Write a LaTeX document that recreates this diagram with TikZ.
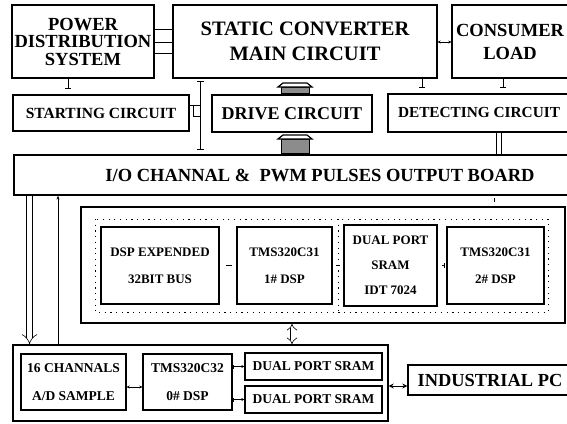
\documentclass[tikz,border=0pt]{standalone}
\usepackage{fontspec}
\setmainfont{Liberation Serif}
\usetikzlibrary{arrows.meta}

\begin{document}
\begin{tikzpicture}[
    x=1pt, y=-1pt,
    blk/.style={draw, line width=1.3pt, inner sep=0pt, align=center},
    fs/.style 2 args={font=\bfseries\fontsize{#1}{#2}\selectfont},
    link/.style={line width=0.8pt},
    tee/.style={line width=0.8pt, -{Bar[width=6pt,line width=0.8pt]}, shorten >=6pt},
    sml/.tip={Stealth[length=3pt,width=3pt]},
    roof/.style={draw, line width=1.2pt, fill=white},
    hatch/.style={draw, line width=0.5pt, fill=black!45}
]
\useasboundingbox (0,0) rectangle (567,423);

% top row
\node[blk, fs={18.5}{17.5}, minimum width=142pt, minimum height=73pt] (pds) at (83,41.5) {POWER\\DISTRIBUTION\\SYSTEM};
\node[blk, fs={20.5}{25}, minimum width=264pt, minimum height=73pt] (scmc) at (305,41.5) {STATIC CONVERTER\\MAIN CIRCUIT};
\node[blk, fs={18.5}{23}, minimum width=116pt, minimum height=73pt] (load) at (510,41.5) {CONSUMER\\LOAD};

% second row
\node[blk, fs={15.5}{15.5}, minimum width=176pt, minimum height=36pt] (start) at (101,113) {STARTING CIRCUIT};
\node[blk, fs={18}{18}, minimum width=160pt, minimum height=37pt] (drive) at (292,113.5) {DRIVE CIRCUIT};
\node[blk, fs={15.3}{15.3}, minimum width=182pt, minimum height=38pt] (detect) at (479,113) {DETECTING CIRCUIT};
\coordinate (vbus) at (200.5,113);

% I/O board
\node[blk, fs={18.5}{18.5}, minimum width=612pt, minimum height=40pt] (io) at (320,175) {I/O CHANNAL \&\ \ PWM PULSES OUTPUT BOARD};

% DSP board
\node[blk, minimum width=484pt, minimum height=116pt] (dspbrd) at (323,265) {};
\draw[line width=1pt, dash pattern=on 1.2pt off 4.5pt] (95,219) rectangle (548,312);
\draw[line width=1pt, dash pattern=on 1.2pt off 4.5pt] (338,219) -- (338,312);
\node[blk, fs={13}{27}, minimum width=118pt, minimum height=77pt] (expbus) at (160,265.5) {DSP EXPENDED\\32BIT BUS};
\node[blk, fs={13}{27}, minimum width=95pt, minimum height=77pt] (dsp1) at (284.5,265.5) {TMS320C31\\1\# DSP};
\node[blk, fs={13}{25}, minimum width=93pt, minimum height=81pt] (dpsram) at (390.5,265.5) {DUAL PORT\\SRAM\\IDT 7024};
\node[blk, fs={13}{27}, minimum width=97pt, minimum height=77pt] (dsp2) at (495.5,265.5) {TMS320C31\\2\# DSP};

% sample board
\node[blk, minimum width=375pt, minimum height=76pt] (lower) at (200.5,383) {};
\node[blk, fs={13.5}{28}, minimum width=105pt, minimum height=56pt] (ad) at (73.5,382) {16 CHANNALS\\A/D SAMPLE};
\node[blk, fs={13.5}{28}, minimum width=89pt, minimum height=56pt] (dsp0) at (187.5,382) {TMS320C32\\0\# DSP};
\node[blk, fs={13.5}{13.5}, minimum width=137pt, minimum height=27pt] (sram1) at (313.5,366.5) {DUAL PORT SRAM};
\node[blk, fs={13.5}{13.5}, minimum width=137pt, minimum height=27pt] (sram2) at (313.5,399.5) {DUAL PORT SRAM};
\node[blk, fs={18.4}{18.4}, minimum width=164pt, minimum height=30pt] (ipc) at (490,380) {INDUSTRIAL PC};

% top connections
\foreach \y in {29,42,53}
    \draw[link] (pds.east |- 0,\y) -- (scmc.west |- 0,\y);
\draw[link, {sml}-{sml}] (scmc.east |- 0,42) -- (load.west |- 0,42);
\draw[tee] (pds.south -| 68,0) -- (start.north -| 68,0);
\draw[tee] (scmc.south -| 422,0) -- (detect.north -| 422,0);
\draw[tee] (load.south -| 503,0) -- (detect.north -| 503,0);

% starting circuit bus
\draw[link, {Bar[width=7pt]}-{Bar[width=7pt]}, shorten <=2pt, shorten >=5pt] (scmc.south -| vbus) -- (io.north -| vbus);
\draw[link] (start.east |- 0,105) -- (vbus |- 0,105);
\draw[link] (193,105) -- (193,116) -- (vbus |- 0,116);

% hatched drive links
\foreach \t/\b in {83/93,135/153} {
    \draw[hatch] (281,\t+4) rectangle (309,\b);
    \draw[roof] (278,\t+4) -- (283,\t) -- (307,\t) -- (312,\t+4) -- cycle;
}
\draw[line width=0.7pt, double distance=4pt] (detect.south -| 499,0) -- (io.north -| 499,0);
\draw[line width=0.6pt, double distance=3pt, shorten <=2pt, shorten >=4pt] (io.south -| 496,0) -- (dspbrd.north -| 496,0);

% DSP board links
\draw[link, shorten <=6pt, shorten >=4pt] (expbus.east) -- (dsp1.west);
\draw[link, shorten <=3pt, shorten >=3pt] (dsp1.east) -- (dpsram.west);
\draw[link, -{Bar[width=5pt]}, shorten <=4pt, shorten >=2pt] (dpsram.east) -- (dsp2.west);

% board to board
\draw[line width=0.6pt, double distance=3pt, {Implies}-{Implies}] (dspbrd.south -| 292,0) -- (lower.north -| 292,0);
\draw[line width=0.6pt, double distance=5pt, -{Implies}] (io.south -| 29.5,0) -- (lower.north -| 29.5,0);
\draw[line width=0.6pt, -{Stealth[length=4pt,width=3pt]}] (lower.north -| 58,0) -- (io.south -| 58,0);

% sample board links
\draw[link, {sml}-{sml}] (ad.east |- 0,387) -- (dsp0.west |- 0,387);
\draw[link, {Bar[width=4pt]}-{sml}] (dsp0.east |- sram1.west) -- (sram1.west);
\draw[link, {Bar[width=4pt]}-{sml}] (dsp0.east |- sram2.west) -- (sram2.west);
\draw[link, {Stealth[open,length=5pt,width=5pt]}-{Stealth[open,length=5pt,width=5pt]}] (lower.east |- 0,386) -- (ipc.west |- 0,386);

\end{tikzpicture}
\end{document}
